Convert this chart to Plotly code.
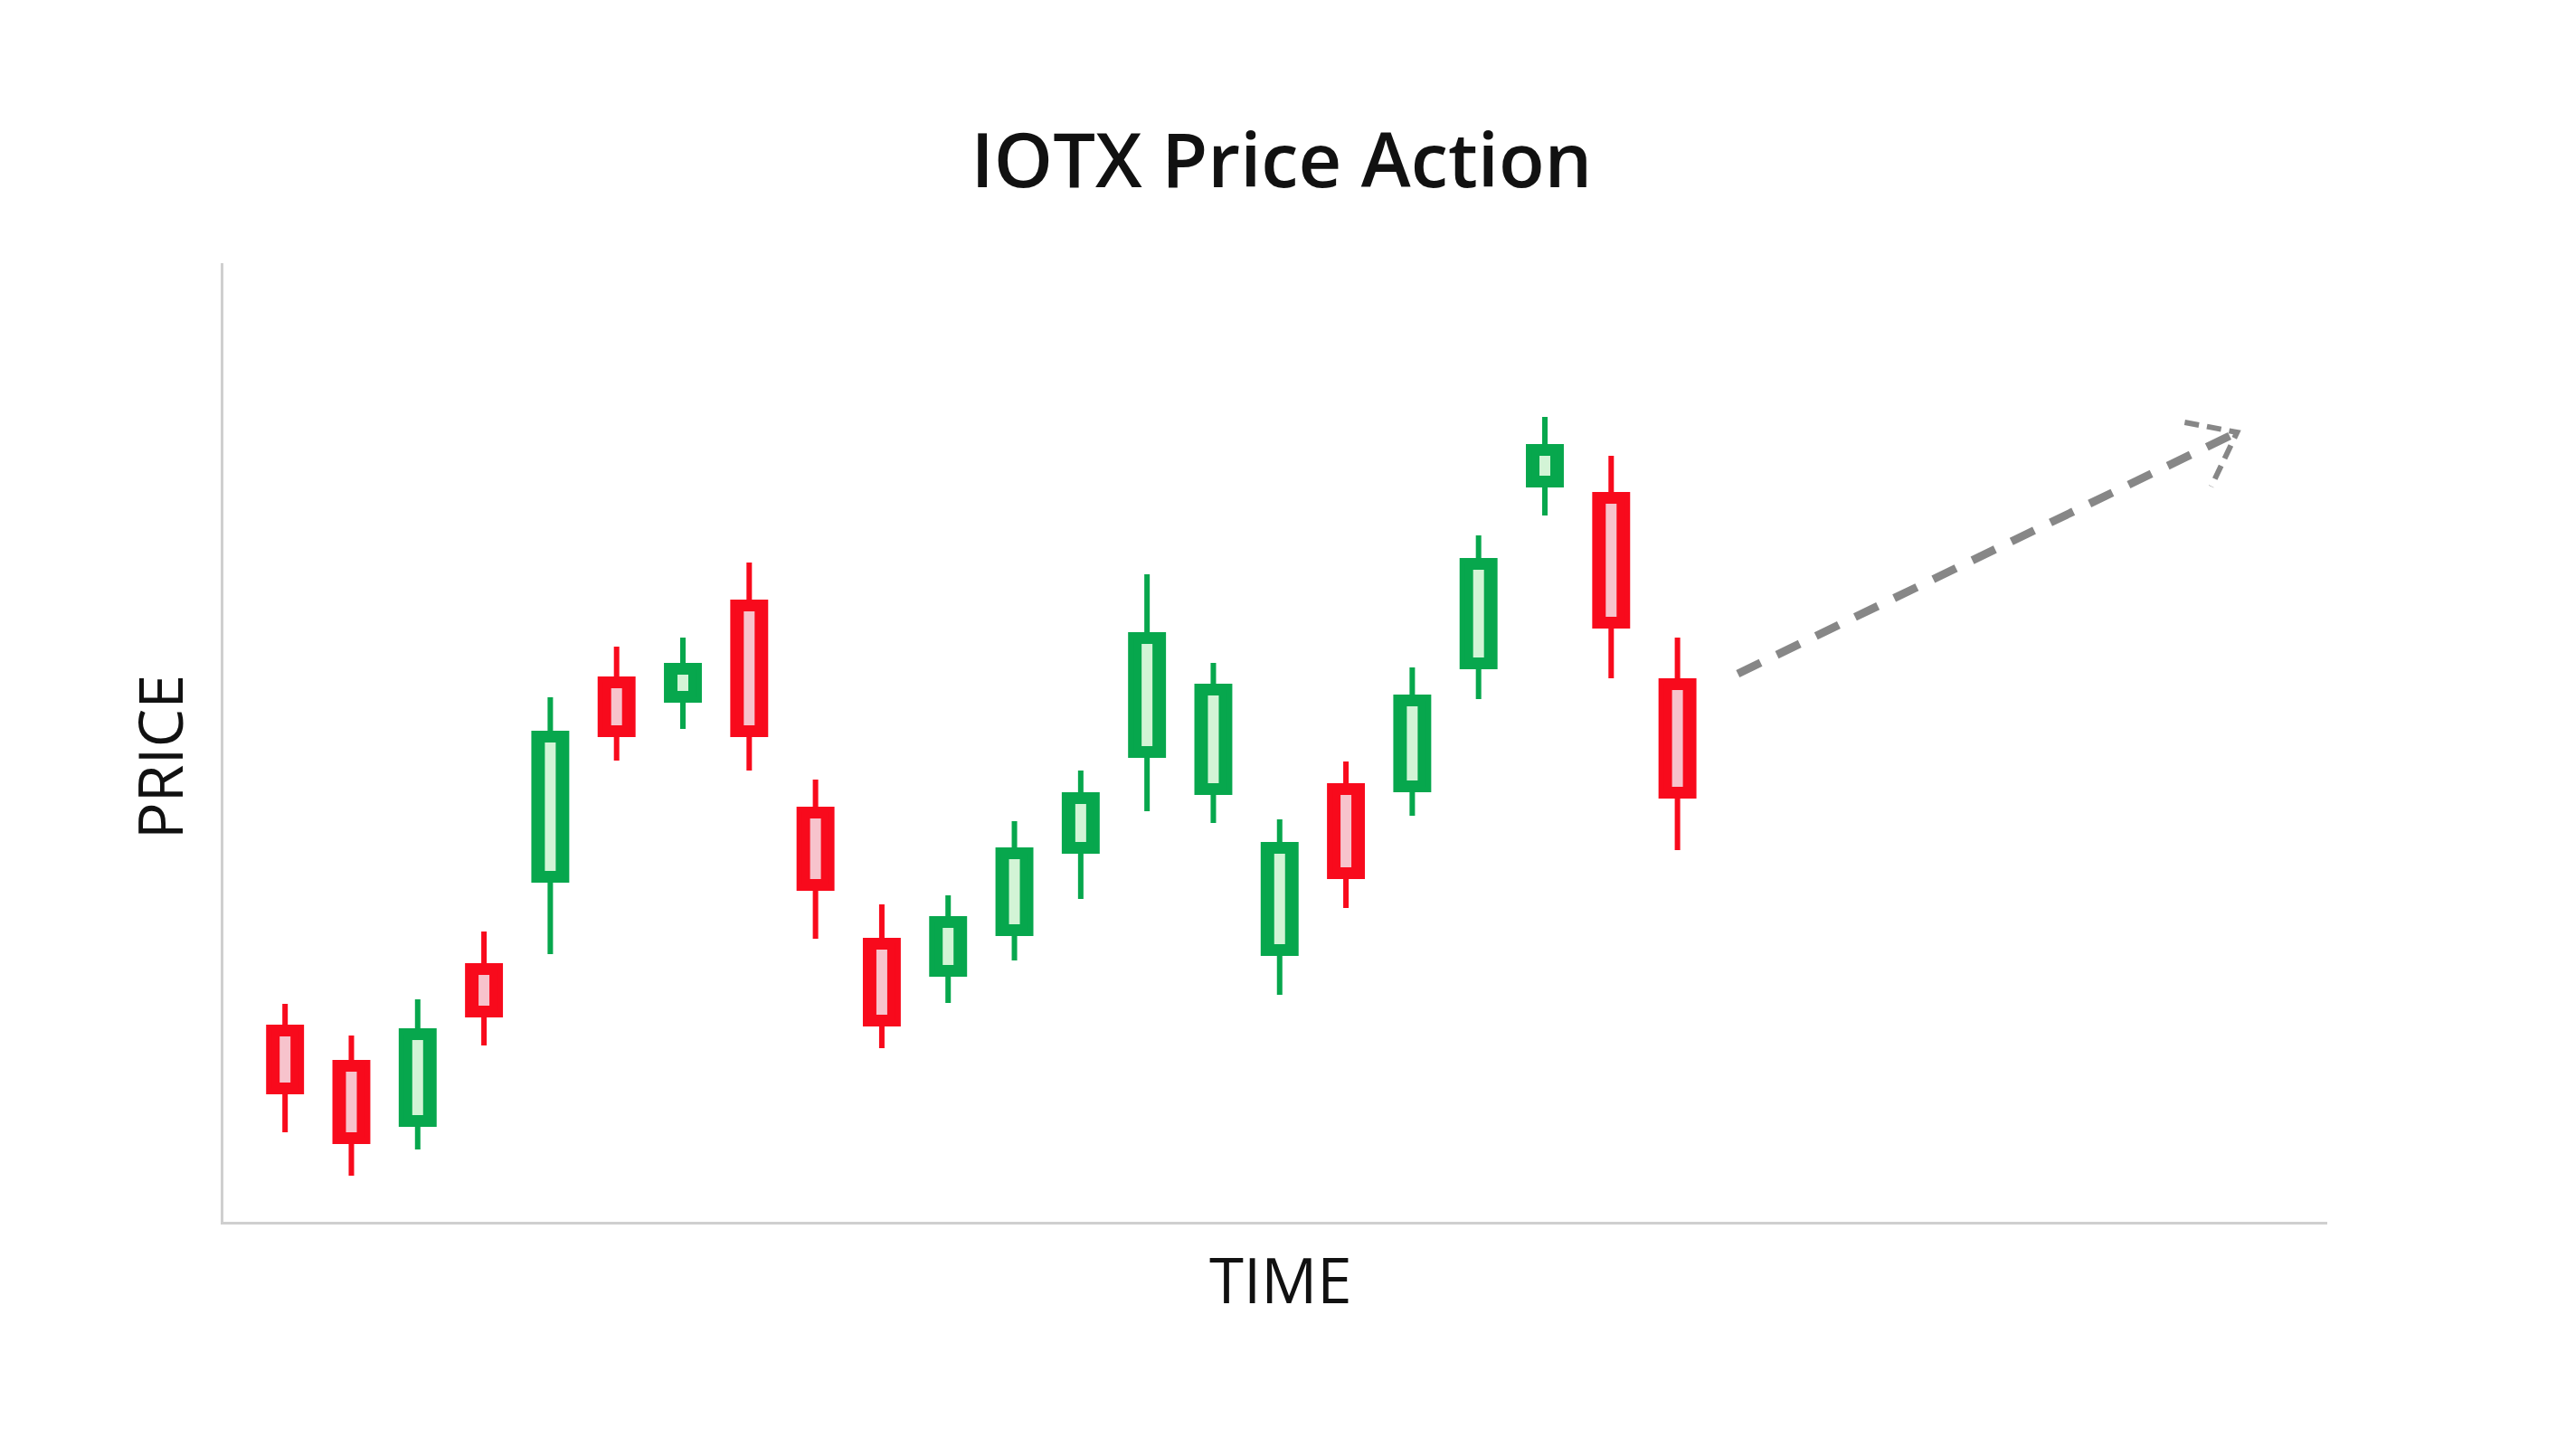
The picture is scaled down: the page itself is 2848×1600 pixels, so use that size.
import plotly.graph_objects as go

# ---- data (arbitrary price units) ----
periods = list(range(22))
open_p  = [21.5, 17.6, 10.8, 28.3, 37.8, 60.0, 57.7, 68.5, 45.6, 31.1, 27.4,
           31.9, 41.0, 51.6, 47.5, 29.7, 48.2, 47.8, 61.4, 81.5, 80.4, 59.8]
high_p  = [24.1, 20.6, 24.6, 32.1, 58.0, 63.6, 64.6, 72.9, 48.9, 35.1, 36.1,
           44.3, 49.9, 71.6, 61.8, 44.5, 50.9, 61.3, 75.9, 89.0, 84.7, 64.6]
low_p   = [9.9, 5.1, 8.0, 19.5, 29.6, 51.0, 54.5, 49.9, 31.3, 19.2, 24.2,
           28.9, 35.7, 45.4, 44.1, 25.1, 34.7, 44.9, 57.8, 78.1, 60.1, 41.1]
close_p = [14.4, 8.9, 21.1, 22.9, 54.0, 53.9, 61.5, 53.9, 36.9, 21.9, 33.5,
           41.1, 47.2, 64.9, 59.2, 41.7, 38.2, 58.0, 73.1, 85.7, 65.9, 47.1]

# projected trend arrow (x in periods, y in price units)
arrow_x = [21.91, 29.44]
arrow_y = [60.6, 87.3]
head_x = [28.65, 29.44, 29.05]
head_y = [88.4, 87.3, 81.3]

RED = "#f80a1c"
GREEN = "#07a74d"
RED_HI = "#f7c3cc"
GREEN_HI = "#d3f4d6"
inset = 1.0

fig = go.Figure()
fig.add_trace(go.Candlestick(
    x=periods, open=open_p, high=high_p, low=low_p, close=close_p,
    increasing=dict(line=dict(color=GREEN, width=6), fillcolor=GREEN),
    decreasing=dict(line=dict(color=RED, width=6), fillcolor=RED),
    whiskerwidth=0, showlegend=False, hoverinfo="skip",
))

# inner highlight strips of the candle bodies
hx_r, hy_r, hx_g, hy_g = [], [], [], []
for x, o, c in zip(periods, open_p, close_p):
    lo, hi = min(o, c) + inset, max(o, c) - inset
    if c >= o:
        hx_g += [x, x, None]; hy_g += [lo, hi, None]
    else:
        hx_r += [x, x, None]; hy_r += [lo, hi, None]
fig.add_trace(go.Scatter(x=hx_r, y=hy_r, mode="lines",
                         line=dict(color=RED_HI, width=12),
                         showlegend=False, hoverinfo="skip"))
fig.add_trace(go.Scatter(x=hx_g, y=hy_g, mode="lines",
                         line=dict(color=GREEN_HI, width=12),
                         showlegend=False, hoverinfo="skip"))

# dashed trend arrow
fig.add_trace(go.Scatter(x=arrow_x, y=arrow_y, mode="lines",
                         line=dict(color="#878787", width=9, dash="28px,20px"),
                         showlegend=False, hoverinfo="skip"))
fig.add_trace(go.Scatter(x=head_x, y=head_y, mode="lines",
                         line=dict(color="#878787", width=6, dash="16px,9px"),
                         showlegend=False, hoverinfo="skip"))

FONT = "Open Sans, Noto Sans, DejaVu Sans, sans-serif"
fig.update_layout(
    width=2832, height=1584,
    paper_bgcolor="white", plot_bgcolor="white",
    margin=dict(l=239, r=267, t=283, b=241),
    title=dict(text="IOTX Price Action", x=0.4975, xanchor="center",
               y=1 - 170 / 1584, yanchor="middle", yref="container",
               font=dict(family=FONT, size=83, color="#111111", weight=600)),
    xaxis=dict(range=[-0.93, 30.8], showgrid=False, zeroline=False,
               showticklabels=False, ticks="", showline=True,
               linecolor="#cfcfcf", linewidth=3, rangeslider=dict(visible=False)),
    yaxis=dict(range=[0, 106], showgrid=False, zeroline=False,
               showticklabels=False, ticks="", showline=True,
               linecolor="#cfcfcf", linewidth=3),
    annotations=[
        dict(text="TIME", xref="paper", yref="paper", x=0.5026, y=-0.0593,
             xanchor="center", yanchor="middle", showarrow=False,
             font=dict(family=FONT, size=69, color="#111111")),
        dict(text="PRICE", xref="paper", yref="paper", x=-0.0308, y=0.4849,
             xanchor="center", yanchor="middle", showarrow=False, textangle=-90,
             font=dict(family=FONT, size=68, color="#111111")),
    ],
)

fig.write_html("out.html")
